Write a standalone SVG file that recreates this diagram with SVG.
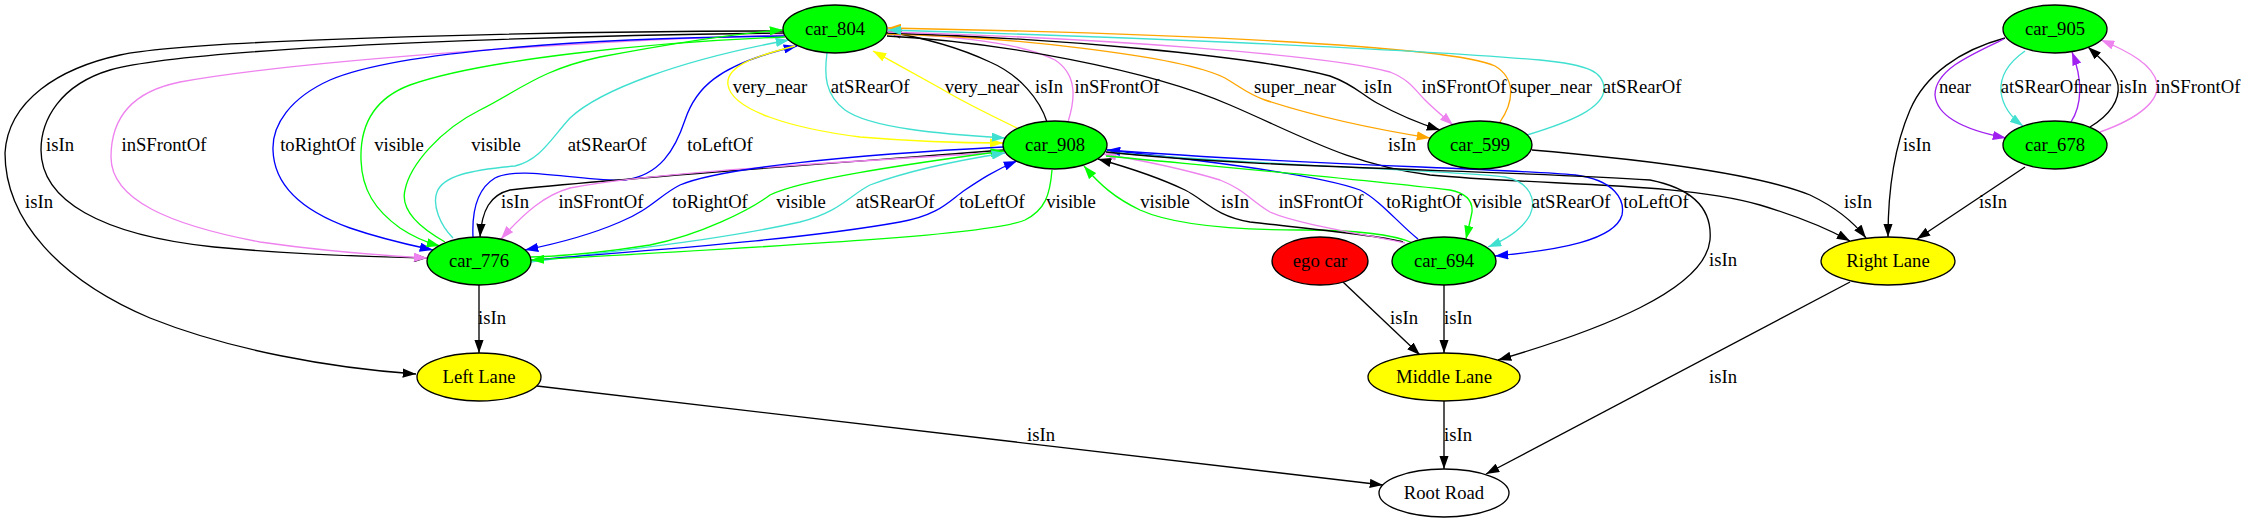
<svg xmlns="http://www.w3.org/2000/svg" width="2245" height="523" viewBox="0 0 2245 523">
<style>
.n{stroke:#000;stroke-width:1.33}
.t{font-family:"Liberation Serif","Times New Roman",serif;font-size:18.67px;text-anchor:middle;fill:#000}
.e{fill:none;stroke-width:1.33}
.k{stroke:#000;marker-end:url(#ak)}
.v{stroke:#ee82ee;marker-end:url(#av)}
.b{stroke:#0000ff;marker-end:url(#ab)}
.g{stroke:#00ff00;marker-end:url(#ag)}
.q{stroke:#40e0d0;marker-end:url(#aq)}
.y{stroke:#ffff00;marker-end:url(#ay)}
.o{stroke:#ffa500;marker-end:url(#ao)}
.p{stroke:#a020f0;marker-end:url(#ap)}
</style>
<defs>
<marker id="ak" viewBox="0 0 10 7" refX="10" refY="3.5" markerWidth="13.3" markerHeight="9.3" markerUnits="userSpaceOnUse" orient="auto"><path d="M0,0L10,3.5L0,7z" fill="#000"/></marker>
<marker id="av" viewBox="0 0 10 7" refX="10" refY="3.5" markerWidth="13.3" markerHeight="9.3" markerUnits="userSpaceOnUse" orient="auto"><path d="M0,0L10,3.5L0,7z" fill="#ee82ee"/></marker>
<marker id="ab" viewBox="0 0 10 7" refX="10" refY="3.5" markerWidth="13.3" markerHeight="9.3" markerUnits="userSpaceOnUse" orient="auto"><path d="M0,0L10,3.5L0,7z" fill="#0000ff"/></marker>
<marker id="ag" viewBox="0 0 10 7" refX="10" refY="3.5" markerWidth="13.3" markerHeight="9.3" markerUnits="userSpaceOnUse" orient="auto"><path d="M0,0L10,3.5L0,7z" fill="#00ff00"/></marker>
<marker id="aq" viewBox="0 0 10 7" refX="10" refY="3.5" markerWidth="13.3" markerHeight="9.3" markerUnits="userSpaceOnUse" orient="auto"><path d="M0,0L10,3.5L0,7z" fill="#40e0d0"/></marker>
<marker id="ay" viewBox="0 0 10 7" refX="10" refY="3.5" markerWidth="13.3" markerHeight="9.3" markerUnits="userSpaceOnUse" orient="auto"><path d="M0,0L10,3.5L0,7z" fill="#ffff00"/></marker>
<marker id="ao" viewBox="0 0 10 7" refX="10" refY="3.5" markerWidth="13.3" markerHeight="9.3" markerUnits="userSpaceOnUse" orient="auto"><path d="M0,0L10,3.5L0,7z" fill="#ffa500"/></marker>
<marker id="ap" viewBox="0 0 10 7" refX="10" refY="3.5" markerWidth="13.3" markerHeight="9.3" markerUnits="userSpaceOnUse" orient="auto"><path d="M0,0L10,3.5L0,7z" fill="#a020f0"/></marker>
</defs>
<rect width="2245" height="523" fill="#fff"/>
<g id="edges">
<path class="e k" d="M784,31 C600,31 200,38 120,55 C60,68 8,100 5,153 C5,220 60,280 150,318 C230,350 330,368 416,374"/>
<path class="e k" d="M784,33 C600,35 200,45 110,70 C60,85 41,120 41,150 C41,200 100,235 214,247 C300,255 380,257 427,258"/>
<path class="e v" d="M784,35 C600,40 300,60 180,82 C130,92 111,120 111,157 C111,200 170,225 260,242 C330,252 390,256 427,258"/>
<path class="e b" d="M784,36 C600,38 400,50 330,80 C290,98 272,125 273,150 C274,185 300,210 350,228 C385,240 410,245 433,250"/>
<path class="e g" d="M785,37 C650,42 480,60 410,85 C370,100 360,130 361,160 C362,190 375,210 400,228 C415,238 428,243 440,246"/>
<path class="e g" d="M445,242 C420,228 400,210 405,190 C410,165 440,130 480,110 C520,90 540,70 600,57 C680,42 740,33 783,30"/>
<path class="e q" d="M453,238 C440,225 432,205 437,192 C443,176 470,170 515,166 C540,160 550,140 570,118 C600,90 680,60 789,40"/>
<path class="e b" d="M473,237 C472,215 475,190 495,178 C520,165 580,182 625,180 C660,175 675,150 685,120 C695,90 715,65 797,46"/>
<path class="e y" d="M795,46 C760,55 725,65 728,85 C732,110 790,128 860,137 C920,142 970,143 1003,143"/>
<path class="e q" d="M827,53 C824,75 825,95 845,110 C870,128 940,134 1005,138"/>
<path class="e y" d="M1017,128 C990,115 960,100 940,88 C915,74 895,63 873,51"/>
<path class="e k" d="M1047,122 C1040,100 1020,75 990,62 C960,48 925,38 888,32"/>
<path class="e v" d="M1068,122 C1075,100 1078,75 1055,60 C1020,42 950,36 888,33"/>
<path class="e o" d="M886,34 C1000,36 1180,55 1225,78 C1245,90 1250,95 1265,100 C1320,118 1380,130 1430,138"/>
<path class="e k" d="M887,33 C1050,38 1250,55 1330,76 C1355,85 1362,95 1377,103 C1397,114 1418,123 1440,130"/>
<path class="e v" d="M888,32 C1100,38 1330,55 1390,72 C1410,80 1415,90 1425,100 C1435,110 1445,118 1453,125"/>
<path class="e o" d="M1500,122 C1515,100 1515,78 1495,66 C1450,45 1150,33 888,28"/>
<path class="e q" d="M1527,135 C1570,122 1605,108 1604,88 C1603,72 1590,65 1540,60 C1400,48 1100,36 888,30"/>
<path class="e k" d="M887,36 C1000,42 1150,70 1230,105 C1300,135 1350,165 1430,175 C1550,186 1680,182 1760,205 C1800,217 1830,230 1850,241"/>
<path class="e k" d="M1532,150 C1650,160 1760,175 1810,195 C1835,207 1852,220 1866,238"/>
<path class="e k" d="M1004,150 C850,162 620,178 510,190 C490,195 482,210 480,237"/>
<path class="e v" d="M1004,152 C850,162 650,172 570,188 C545,195 525,212 501,239"/>
<path class="e b" d="M1003,147 C850,155 720,168 680,185 C660,195 650,210 620,222 C590,235 560,243 525,250"/>
<path class="e g" d="M531,257 C570,256 600,253 650,245 C700,235 750,210 770,195 C800,180 900,165 1004,151"/>
<path class="e q" d="M531,262 C620,250 720,240 800,222 C840,212 850,195 870,185 C910,170 960,160 1005,153"/>
<path class="e b" d="M531,260 C650,250 800,240 900,222 C940,215 950,200 965,190 C980,180 995,170 1017,161"/>
<path class="e g" d="M1052,170 C1050,195 1045,210 1025,220 C990,235 800,245 531,260"/>
<path class="e g" d="M1413,243 C1390,233 1350,230 1300,230 C1250,230 1180,228 1140,210 C1115,198 1100,185 1084,166"/>
<path class="e k" d="M1403,242 C1380,235 1300,228 1250,222 C1215,216 1205,200 1185,190 C1160,178 1130,168 1098,159"/>
<path class="e v" d="M1405,243 C1370,235 1300,225 1270,212 C1250,200 1245,190 1220,180 C1180,168 1140,160 1103,154"/>
<path class="e b" d="M1418,239 C1400,225 1380,200 1360,190 C1320,175 1200,160 1107,150"/>
<path class="e g" d="M1106,156 C1200,165 1350,178 1450,190 C1465,193 1473,200 1472,212 C1470,222 1468,230 1466,239"/>
<path class="e q" d="M1106,152 C1250,165 1450,170 1505,177 C1530,182 1537,200 1530,215 C1522,230 1505,240 1488,247"/>
<path class="e b" d="M1107,150 C1300,165 1500,168 1575,175 C1615,180 1625,200 1622,215 C1615,240 1560,250 1495,256"/>
<path class="e k" d="M1106,152 C1250,168 1500,170 1650,180 C1700,190 1712,215 1710,240 C1705,290 1600,330 1498,360"/>
<path class="e k" d="M479,285 L479,353"/>
<path class="e k" d="M1343,282 L1420,355"/>
<path class="e k" d="M1444,285 L1444,353"/>
<path class="e k" d="M1444,401 L1444,469"/>
<path class="e k" d="M537,386 L1383,485"/>
<path class="e k" d="M1850,282 L1486,474"/>
<path class="e k" d="M2005,38 C1960,50 1925,75 1910,110 C1895,145 1888,190 1888,237"/>
<path class="e k" d="M2025,167 L1917,239"/>
<path class="e p" d="M2004,39 C1970,55 1935,70 1935,95 C1937,120 1975,132 2006,138"/>
<path class="e q" d="M2025,51 C2005,65 2000,80 2001,92 C2003,108 2012,118 2023,126"/>
<path class="e p" d="M2071,122 C2082,105 2083,80 2072,52"/>
<path class="e k" d="M2090,127 C2110,115 2120,100 2118,85 C2115,70 2100,58 2088,47"/>
<path class="e v" d="M2100,132 C2140,118 2160,100 2157,83 C2153,65 2130,52 2101,40"/>
</g>
<g id="edge-labels" class="t">
<text x="770" y="93">very_near</text>
<text x="870" y="93">atSRearOf</text>
<text x="982" y="93">very_near</text>
<text x="1049" y="93">isIn</text>
<text x="1117" y="93">inSFrontOf</text>
<text x="1295" y="93">super_near</text>
<text x="1378" y="93">isIn</text>
<text x="1464" y="93">inSFrontOf</text>
<text x="1551" y="93">super_near</text>
<text x="1642" y="93">atSRearOf</text>
<text x="1955" y="93">near</text>
<text x="2040" y="93">atSRearOf</text>
<text x="2095" y="93">near</text>
<text x="2133" y="93">isIn</text>
<text x="2198" y="93">inSFrontOf</text>
<text x="60" y="151">isIn</text>
<text x="164" y="151">inSFrontOf</text>
<text x="318" y="151">toRightOf</text>
<text x="399" y="151">visible</text>
<text x="496" y="151">visible</text>
<text x="607" y="151">atSRearOf</text>
<text x="720" y="151">toLeftOf</text>
<text x="1402" y="151">isIn</text>
<text x="1917" y="151">isIn</text>
<text x="39" y="208">isIn</text>
<text x="515" y="208">isIn</text>
<text x="601" y="208">inSFrontOf</text>
<text x="710" y="208">toRightOf</text>
<text x="801" y="208">visible</text>
<text x="895" y="208">atSRearOf</text>
<text x="992" y="208">toLeftOf</text>
<text x="1071" y="208">visible</text>
<text x="1165" y="208">visible</text>
<text x="1235" y="208">isIn</text>
<text x="1321" y="208">inSFrontOf</text>
<text x="1424" y="208">toRightOf</text>
<text x="1497" y="208">visible</text>
<text x="1571" y="208">atSRearOf</text>
<text x="1656" y="208">toLeftOf</text>
<text x="1858" y="208">isIn</text>
<text x="1993" y="208">isIn</text>
<text x="1723" y="266">isIn</text>
<text x="492" y="324">isIn</text>
<text x="1404" y="324">isIn</text>
<text x="1458" y="324">isIn</text>
<text x="1723" y="383">isIn</text>
<text x="1041" y="441">isIn</text>
<text x="1458" y="441">isIn</text>
</g>
<g id="node-car_804"><ellipse class="n" cx="835" cy="29" rx="52" ry="24" fill="#00ff00"/><text class="t" x="835" y="35">car_804</text></g>
<g id="node-car_908"><ellipse class="n" cx="1055" cy="145" rx="52" ry="24" fill="#00ff00"/><text class="t" x="1055" y="151">car_908</text></g>
<g id="node-car_599"><ellipse class="n" cx="1480" cy="145" rx="52" ry="24" fill="#00ff00"/><text class="t" x="1480" y="151">car_599</text></g>
<g id="node-car_905"><ellipse class="n" cx="2055" cy="29" rx="52" ry="24" fill="#00ff00"/><text class="t" x="2055" y="35">car_905</text></g>
<g id="node-car_678"><ellipse class="n" cx="2055" cy="145" rx="52" ry="24" fill="#00ff00"/><text class="t" x="2055" y="151">car_678</text></g>
<g id="node-car_776"><ellipse class="n" cx="479" cy="261" rx="52" ry="24" fill="#00ff00"/><text class="t" x="479" y="267">car_776</text></g>
<g id="node-ego_car"><ellipse class="n" cx="1320" cy="261" rx="48" ry="24" fill="#ff0000"/><text class="t" x="1320" y="267">ego car</text></g>
<g id="node-car_694"><ellipse class="n" cx="1444" cy="261" rx="52" ry="24" fill="#00ff00"/><text class="t" x="1444" y="267">car_694</text></g>
<g id="node-right_lane"><ellipse class="n" cx="1888" cy="261" rx="67" ry="24" fill="#ffff00"/><text class="t" x="1888" y="267">Right Lane</text></g>
<g id="node-left_lane"><ellipse class="n" cx="479" cy="377" rx="62" ry="24" fill="#ffff00"/><text class="t" x="479" y="383">Left Lane</text></g>
<g id="node-middle_lane"><ellipse class="n" cx="1444" cy="377" rx="76" ry="24" fill="#ffff00"/><text class="t" x="1444" y="383">Middle Lane</text></g>
<g id="node-root_road"><ellipse class="n" cx="1444" cy="493" rx="65" ry="24" fill="#ffffff"/><text class="t" x="1444" y="499">Root Road</text></g>
</svg>
